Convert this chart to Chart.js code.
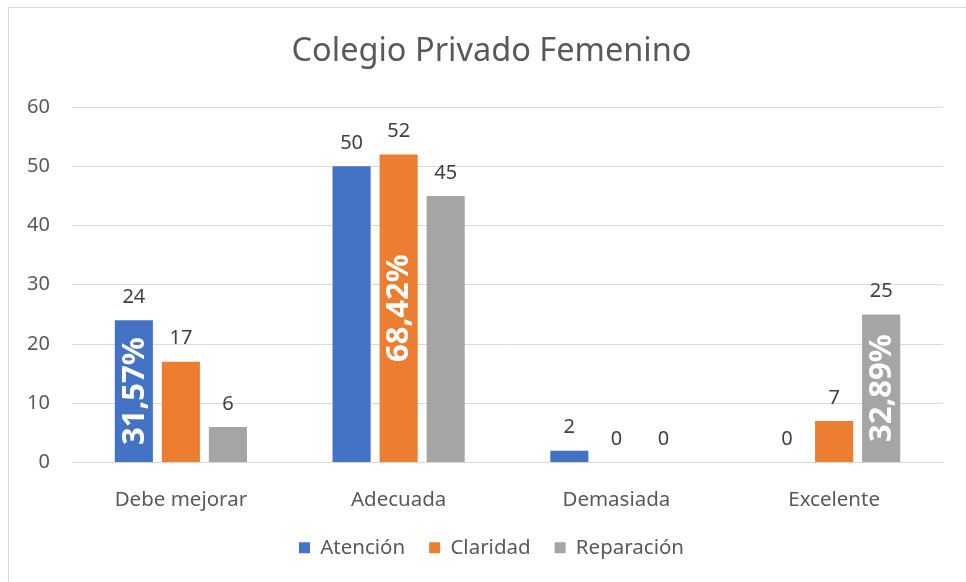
<!DOCTYPE html>
<html>
<head>
<meta charset="utf-8">
<script src="https://cdn.jsdelivr.net/npm/chart.js@4/dist/chart.umd.min.js"></script>
<style>
  html, body { margin: 0; padding: 0; background: #fff; }
  #wrap { width: 966px; height: 582px; }
</style>
</head>
<body>
<div id="wrap"><canvas id="chart"></canvas></div>
<script>
// datos
const categorias = ["Debe mejorar", "Adecuada", "Demasiada", "Excelente"];
const atencion = [24, 50, 2, 0];
const claridad = [17, 52, 0, 7];
const reparacion = [6, 45, 0, 25];
// porcentajes que van dentro de algunas barras
const atencionPct = ["31,57%", null, null, null];
const claridadPct = [null, "68,42%", null, null];
const reparacionPct = [null, null, null, "32,89%"];
const yTicks = [0, 10, 20, 30, 40, 50, 60];

const fuente = "'Noto Sans', 'Open Sans', sans-serif";

// marco gris alrededor del gráfico
const marco = {
  id: "marco",
  beforeDraw(chart) {
    const c = chart.ctx;
    c.save();
    c.fillStyle = "#fff";
    c.fillRect(0, 0, chart.width, chart.height);
    c.strokeStyle = "#d9d9d9";
    c.lineWidth = 1;
    c.strokeRect(8.5, 7.5, chart.width + 20, chart.height + 20);
    c.restore();
  },
};

// etiquetas de valor y porcentajes
const etiquetas = {
  id: "etiquetas",
  afterDatasetsDraw(chart) {
    const c = chart.ctx;
    c.save();
    chart.data.datasets.forEach((ds, i) => {
      const meta = chart.getDatasetMeta(i);
      meta.data.forEach((bar, j) => {
        c.fillStyle = "#404040";
        c.font = "20px " + fuente;
        c.textAlign = "center";
        c.textBaseline = "middle";
        c.fillText(String(ds.data[j]), bar.x, bar.y - 23);
        const pct = ds.pct[j];
        if (pct) {
          c.save();
          c.translate(bar.x, (bar.y + bar.base) / 2);
          c.rotate(-Math.PI / 2);
          c.fillStyle = "#ffffff";
          c.font = "bold 31px " + fuente;
          c.fillText(pct, 0, 1);
          c.restore();
        }
      });
    });
    c.restore();
  },
};

const ctx = document.querySelector("#chart").getContext("2d");

new Chart(ctx, {
  type: "bar",
  data: {
    labels: categorias,
    datasets: [
      { label: "Atención", data: atencion, pct: atencionPct, backgroundColor: "#4472C4" },
      { label: "Claridad", data: claridad, pct: claridadPct, backgroundColor: "#ED7D31" },
      { label: "Reparación", data: reparacion, pct: reparacionPct, backgroundColor: "#A5A5A5" },
    ],
  },
  options: {
    responsive: true,
    maintainAspectRatio: false,
    animation: false,
    categoryPercentage: 0.648,
    barPercentage: 0.81,
    layout: { padding: { left: 25, right: 8, top: 0, bottom: 14 } },
    plugins: {
      title: {
        display: true,
        text: "Colegio Privado Femenino",
        color: "#595959",
        font: { family: fuente, size: 32.5, weight: "normal" },
        padding: { top: 32, bottom: 36 },
      },
      legend: {
        position: "bottom",
        labels: {
          color: "#595959",
          font: { family: fuente, size: 20.5 },
          boxWidth: 11,
          boxHeight: 11,
          padding: 24,
        },
      },
      tooltip: { enabled: false },
    },
    scales: {
      x: {
        grid: { display: false },
        border: { color: "#d9d9d9" },
        ticks: { color: "#595959", font: { family: fuente, size: 20.5 }, padding: 17 },
        afterFit: (s) => { s.height = 51; },
      },
      y: {
        min: 0,
        max: 60,
        afterBuildTicks: (s) => { s.ticks = yTicks.map((v) => ({ value: v })); },
        grid: { color: "#d9d9d9", drawTicks: false },
        border: { display: false },
        ticks: { color: "#595959", font: { family: fuente, size: 20 }, padding: 22 },
        afterFit: (s) => { s.width = 47; },
      },
      // eje vacío a la derecha, solo para dejar margen
      yDer: {
        position: "right",
        grid: { display: false },
        border: { display: false },
        ticks: { display: false },
        afterFit: (s) => { s.width = 15; },
      },
    },
  },
  plugins: [marco, etiquetas],
});
</script>
</body>
</html>
